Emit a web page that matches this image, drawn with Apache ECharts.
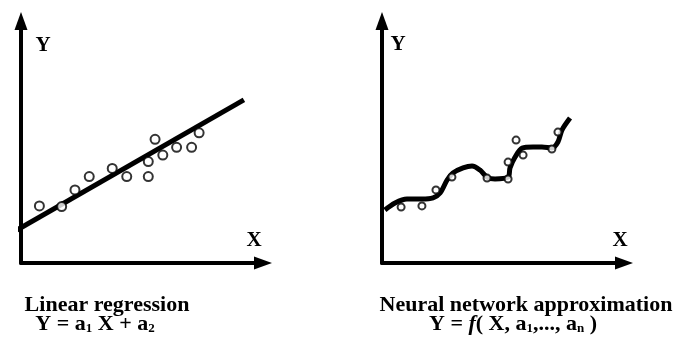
<!DOCTYPE html>
<html>
<head>
<meta charset="utf-8">
<script src="https://cdn.jsdelivr.net/npm/echarts@6/dist/echarts.min.js"></script>
<style>
  html, body { margin: 0; padding: 0; background: #fff; }
  #chart { width: 681px; height: 346px; }
</style>
</head>
<body>
<div id="chart"></div>
<script>
// Observed samples (left panel)
const linObsX = [0.76, 1.68, 2.23, 2.82, 3.77, 4.37, 5.26, 5.26, 5.54, 5.86, 6.43, 7.05, 7.36];
const linObsY = [2.36, 2.33, 3.02, 3.57, 3.91, 3.57, 4.19, 3.57, 5.11, 4.46, 4.78, 4.78, 5.38];
// Fitted straight line end points
const linFitX = [-0.17, 9.21];
const linFitY = [1.36, 6.74];

// Observed samples (right panel)
const nnObsX = [0.79, 1.65, 2.23, 2.89, 4.34, 5.21, 5.21, 5.54, 5.83, 7.02, 7.27];
const nnObsY = [2.31, 2.36, 3.02, 3.55, 3.51, 3.47, 4.17, 5.08, 4.46, 4.71, 5.41];
// Network output curve
const nnCurveX = [0.12, 0.54, 1.03, 1.65, 2.11, 2.40, 2.69, 2.93, 3.35, 3.72, 4.05, 4.34, 4.67, 5.21, 5.29, 5.50, 5.79, 6.24, 6.61, 7.02, 7.27, 7.44, 7.77];
const nnCurveY = [2.19, 2.48, 2.64, 2.64, 2.69, 2.89, 3.43, 3.72, 3.93, 4.01, 3.84, 3.55, 3.47, 3.55, 3.93, 4.38, 4.75, 4.79, 4.79, 4.75, 5.00, 5.50, 5.99];

const panelTitles = ['Linear regression', 'Neural network approximation'];
const axisNames = { x: 'X', y: 'Y' };

const FONT = '"Liberation Serif", "Times New Roman", serif';
const INK = '#000';

function zip(xs, ys) { return xs.map((x, i) => [x, ys[i]]); }

function axisLine() {
  return {
    show: true,
    onZero: false,
    symbol: ['none', 'triangle'],
    symbolSize: [13, 18],
    lineStyle: { color: INK, width: 4 }
  };
}

function xAxisFor(grid) {
  return {
    gridIndex: grid, type: 'value', min: 0, max: 10,
    axisLine: axisLine(), axisTick: { show: false }, axisLabel: { show: false }, splitLine: { show: false }
  };
}

function yAxisFor(grid, gap, shift) {
  return {
    gridIndex: grid, type: 'value', min: 0, max: 10,
    axisLine: axisLine(), axisTick: { show: false }, axisLabel: { show: false }, splitLine: { show: false },
    name: axisNames.y, nameLocation: 'end', nameGap: gap,
    nameTextStyle: { fontFamily: FONT, fontSize: 21, fontWeight: 'bold', color: INK,
      align: 'center', verticalAlign: 'middle', padding: [0, 0, 0, shift] }
  };
}

const baseText = { fontFamily: FONT, fontSize: 22, fontWeight: 'bold', fill: INK, align: 'center', verticalAlign: 'middle' };
const nameText = Object.assign({}, baseText, { fontSize: 21 });
const subStyle = { fontFamily: FONT, fontSize: 13, fontWeight: 'bold', verticalAlign: 'bottom' };

const chart = echarts.init(document.getElementById('chart'), null, { renderer: 'canvas' });

chart.setOption({
  backgroundColor: '#fff',
  animation: false,
  grid: [
    { left: 21, top: 21, width: 242, height: 242 },
    { left: 382, top: 21, width: 242, height: 242 }
  ],
  xAxis: [xAxisFor(0), xAxisFor(1)],
  yAxis: [yAxisFor(0, -25, 44), yAxisFor(1, -24, 32)],
  series: [
    {
      type: 'line', xAxisIndex: 0, yAxisIndex: 0, data: zip(linFitX, linFitY),
      symbol: 'none', clip: false, lineStyle: { color: INK, width: 5 }, z: 2
    },
    {
      type: 'scatter', xAxisIndex: 0, yAxisIndex: 0, data: zip(linObsX, linObsY),
      symbol: 'circle', symbolSize: 9,
      itemStyle: { color: '#fff', borderColor: INK, borderWidth: 2 }, z: 3
    },
    {
      type: 'line', xAxisIndex: 1, yAxisIndex: 1, data: zip(nnCurveX, nnCurveY),
      symbol: 'none', smooth: 0.3, clip: false, lineStyle: { color: INK, width: 5 }, z: 2
    },
    {
      type: 'scatter', xAxisIndex: 1, yAxisIndex: 1, data: zip(nnObsX, nnObsY),
      symbol: 'circle', symbolSize: 7,
      itemStyle: { color: '#fff', borderColor: INK, borderWidth: 2 }, z: 3
    }
  ],
  graphic: [
    // horizontal axis names
    { type: 'text', x: 254, y: 241, style: Object.assign({ text: axisNames.x }, nameText) },
    { type: 'text', x: 620, y: 241, style: Object.assign({ text: axisNames.x }, nameText) },
    // panel captions
    { type: 'text', x: 107, y: 305, style: Object.assign({ text: panelTitles[0] }, baseText) },
    { type: 'text', x: 95, y: 324, style: Object.assign({
        text: 'Y = a{s|1} X + a{s|2}', rich: { s: subStyle } }, baseText) },
    { type: 'text', x: 526, y: 305, style: Object.assign({ text: panelTitles[1] }, baseText) },
    { type: 'text', x: 513, y: 324, style: Object.assign({
        text: 'Y = {i|f}( X, a{s|1},..., a{s|n} )',
        rich: { s: subStyle, i: { fontFamily: FONT, fontSize: 22, fontWeight: 'bold', fontStyle: 'italic' } } }, baseText) }
  ]
});
</script>
</body>
</html>
